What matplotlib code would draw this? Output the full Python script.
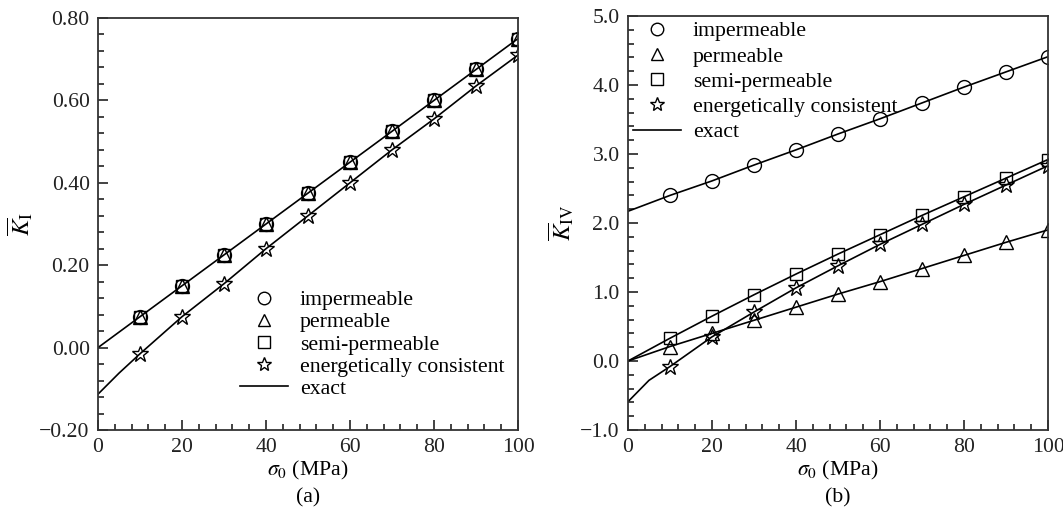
import matplotlib
matplotlib.use("Agg")
import matplotlib.pyplot as plt
from matplotlib.ticker import MultipleLocator, FuncFormatter
from matplotlib.lines import Line2D

plt.rcParams['font.family'] = ['Liberation Serif', 'DejaVu Serif']
plt.rcParams['mathtext.fontset'] = 'stix'

# ---- data ----
sigma = [10, 20, 30, 40, 50, 60, 70, 80, 90, 100]
sigma_exact = [0, 10, 20, 30, 40, 50, 60, 70, 80, 90, 100]
sigma_exact_fine = [0, 5, 10, 20, 30, 40, 50, 60, 70, 80, 90, 100]

# (a) K_I
a_imperm = [0.075, 0.15, 0.225, 0.30, 0.375, 0.45, 0.525, 0.60, 0.675, 0.75]
a_perm = [0.075, 0.15, 0.225, 0.30, 0.375, 0.45, 0.525, 0.60, 0.675, 0.75]
a_semi = [0.075, 0.15, 0.225, 0.30, 0.375, 0.45, 0.525, 0.60, 0.675, 0.75]
a_energ = [-0.015, 0.075, 0.155, 0.24, 0.32, 0.40, 0.48, 0.555, 0.635, 0.71]
a_exact_std = [0.0, 0.075, 0.15, 0.225, 0.30, 0.375, 0.45, 0.525, 0.60, 0.675, 0.75]
a_exact_energ = [-0.113, -0.062, -0.015, 0.075, 0.155, 0.24, 0.32, 0.40, 0.48, 0.555, 0.635, 0.71]

# (b) K_IV
b_imperm = [2.40, 2.61, 2.84, 3.06, 3.29, 3.51, 3.74, 3.97, 4.19, 4.41]
b_perm = [0.21, 0.40, 0.59, 0.78, 0.97, 1.15, 1.34, 1.53, 1.72, 1.90]
b_semi = [0.33, 0.65, 0.96, 1.26, 1.55, 1.83, 2.11, 2.38, 2.65, 2.92]
b_energ = [-0.08, 0.35, 0.71, 1.06, 1.38, 1.69, 1.98, 2.27, 2.55, 2.83]
b_exact_imperm = [2.17, 2.40, 2.61, 2.84, 3.06, 3.29, 3.51, 3.74, 3.97, 4.19, 4.41]
b_exact_perm = [0.0, 0.21, 0.40, 0.59, 0.78, 0.97, 1.15, 1.34, 1.53, 1.72, 1.90]
b_exact_semi = [0.0, 0.33, 0.65, 0.96, 1.26, 1.55, 1.83, 2.11, 2.38, 2.65, 2.92]
b_exact_energ = [-0.59, -0.28, -0.08, 0.35, 0.71, 1.06, 1.38, 1.69, 1.98, 2.27, 2.55, 2.83]

labels = ['impermeable', 'permeable', 'semi-permeable', 'energetically consistent', 'exact']

fig = plt.figure(figsize=(10.63, 5.13), dpi=100)
axA = fig.add_axes([98/1063, 1-430/513, 420/1063, 412/513])
axB = fig.add_axes([628/1063, 1-430/513, 420/1063, 414/513])

FS = 15.7
mk = dict(linestyle='none', markerfacecolor='none', markeredgecolor='black', markeredgewidth=1.0)


def fmt(nd):
    def f(v, pos):
        s = f'{v:.{nd}f}'
        if s.startswith('-'):
            if float(s) == 0:
                s = s[1:]
            else:
                s = '\u2212' + s[1:]
        return s
    return FuncFormatter(f)


def style(ax, ylim, ymaj, ymin, nd):
    ax.set_xlim(0, 100)
    ax.set_ylim(*ylim)
    ax.xaxis.set_major_locator(MultipleLocator(20))
    ax.xaxis.set_minor_locator(MultipleLocator(4))
    ax.yaxis.set_major_locator(MultipleLocator(ymaj))
    ax.yaxis.set_minor_locator(MultipleLocator(ymin))
    ax.yaxis.set_major_formatter(fmt(nd))
    ax.tick_params(which='both', direction='in', top=False, right=False,
                   labelsize=FS, colors='#222222', width=1.2)
    ax.tick_params(which='major', length=7)
    ax.tick_params(axis='x', which='major', pad=6)
    ax.tick_params(axis='y', which='major', pad=6)
    ax.tick_params(which='minor', length=4)
    for s in ax.spines.values():
        s.set_linewidth(1.3)
        s.set_color('#333333')


def legend(ax, anchor, spacing):
    handles = [
        Line2D([], [], marker='o', markersize=9, **mk),
        Line2D([], [], marker='^', markersize=9, **mk),
        Line2D([], [], marker='s', markersize=8, **mk),
        Line2D([], [], marker='*', markersize=10, **mk),
        Line2D([], [], color='black', linewidth=1.2),
    ]
    ax.legend(handles, labels, loc='upper left', bbox_to_anchor=anchor, frameon=False,
              fontsize=FS, handlelength=2.2, handletextpad=0.55,
              labelspacing=spacing, borderaxespad=0, borderpad=0)


# (a)
axA.plot(sigma_exact, a_exact_std, color='black', linewidth=1.2)
axA.plot(sigma_exact_fine, a_exact_energ, color='black', linewidth=1.2)
axA.plot(sigma, a_imperm, marker='o', markersize=10, **mk)
axA.plot(sigma, a_perm, marker='^', markersize=10, **mk)
axA.plot(sigma, a_semi, marker='s', markersize=9, **mk)
axA.plot(sigma, a_energ, marker='*', markersize=12, **mk)
style(axA, (-0.2, 0.8), 0.2, 0.04, 2)
axA.set_xlabel(r'$\sigma_0$ (MPa)', fontsize=FS, labelpad=1)
axA.set_ylabel(r'$\overline{K}_{\rm I}$', fontsize=FS + 2, labelpad=3)
legend(axA, (0.338, 0.34), 0.09)
axA.text(0.5, -0.165, '(a)', transform=axA.transAxes, ha='center', va='center', fontsize=FS)

# (b)
axB.plot(sigma_exact, b_exact_imperm, color='black', linewidth=1.2)
axB.plot(sigma_exact, b_exact_perm, color='black', linewidth=1.2)
axB.plot(sigma_exact, b_exact_semi, color='black', linewidth=1.2)
axB.plot(sigma_exact_fine, b_exact_energ, color='black', linewidth=1.2)
axB.plot(sigma, b_imperm, marker='o', markersize=10, **mk)
axB.plot(sigma, b_perm, marker='^', markersize=10, **mk)
axB.plot(sigma, b_semi, marker='s', markersize=9, **mk)
axB.plot(sigma, b_energ, marker='*', markersize=12, **mk)
style(axB, (-1.0, 5.0), 1.0, 0.2, 1)
axB.set_xlabel(r'$\sigma_0$ (MPa)', fontsize=FS, labelpad=1)
axB.set_ylabel(r'$\overline{K}_{\rm IV}$', fontsize=FS + 2, labelpad=3)
legend(axB, (0.012, 0.988), 0.23)
axB.text(0.5, -0.165, '(b)', transform=axB.transAxes, ha='center', va='center', fontsize=FS)

fig.savefig('out.png', dpi=100)
